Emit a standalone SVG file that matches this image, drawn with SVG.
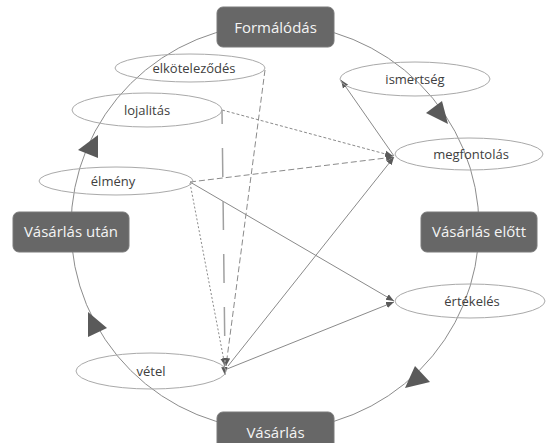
<svg xmlns="http://www.w3.org/2000/svg" width="546" height="443" viewBox="0 0 546 443">
  <style>
    .cycle { fill: none; stroke: #8c8c8c; stroke-width: 1; }
    .big-arrow { fill: #5a5a5a; }
    .phase rect { fill: #676767; stroke: #7a7a7a; stroke-width: 1; }
    .phase text { font-family: "Open Sans", "Noto Sans", sans-serif; font-size: 15px; fill: #f4f4f4; text-anchor: middle; }
    .step ellipse { fill: none; stroke: #a9a9a9; stroke-width: 1; }
    .step text { font-family: "Open Sans", "Noto Sans", sans-serif; font-size: 13px; fill: #404040; text-anchor: middle; }
    .link { fill: none; stroke: #8a8a8a; stroke-width: 1; }
    .dot { stroke-dasharray: 2 2; }
    .fine { stroke-dasharray: 3 2; }
    .dash { stroke-dasharray: 6 3; }
    .long { stroke: #a0a0a0; stroke-width: 1.5; stroke-dasharray: 29 24; stroke-dashoffset: 15; }
  </style>
  <defs>
    <marker id="ah" viewBox="0 0 10 10" refX="10" refY="5" markerWidth="8" markerHeight="8" markerUnits="userSpaceOnUse" orient="auto">
      <path d="M0,1 L10,5 L0,9 Z" fill="#5a5a5a"/>
    </marker>
  </defs>

  <rect width="546" height="443" fill="#ffffff"/>

  <!-- the purchase cycle ring with its direction arrows -->
  <g id="cycle">
    <ellipse class="cycle" cx="275" cy="227" rx="204" ry="203"/>
    <polygon class="big-arrow" points="426,113 442,101 448,124"/>
    <polygon class="big-arrow" points="405,388 415,366 430,382"/>
    <polygon class="big-arrow" points="88,312 88,337 107,328"/>
    <polygon class="big-arrow" points="98,135 78,150 98,158"/>
  </g>

  <!-- relations between the steps -->
  <g id="connectors">
    <line class="link fine" x1="222" y1="110" x2="393" y2="156" marker-end="url(#ah)"/>
    <line class="link dash" x1="190" y1="182" x2="394" y2="157" marker-end="url(#ah)"/>
    <line class="link" x1="228" y1="366" x2="394" y2="157" marker-end="url(#ah)"/>
    <line class="link" x1="394" y1="156" x2="341" y2="80" marker-end="url(#ah)"/>
    <line class="link" x1="190" y1="182" x2="394" y2="301" marker-end="url(#ah)"/>
    <line class="link" x1="227" y1="369" x2="394" y2="302" marker-end="url(#ah)"/>
    <line class="link dot" x1="190" y1="183" x2="225" y2="366" marker-end="url(#ah)"/>
    <line class="link dash" x1="265" y1="70" x2="226" y2="366" marker-end="url(#ah)"/>
    <line class="link long" x1="222" y1="110" x2="225" y2="362"/>
    <line class="link" x1="224" y1="362" x2="225" y2="375" marker-end="url(#ah)"/>
  </g>

  <!-- phases -->
  <g id="phase-formalodas" class="phase">
    <rect x="217" y="7" width="117" height="40" rx="6"/>
    <text x="275.5" y="32.5">Formálódás</text>
  </g>
  <g id="phase-vasarlas-elott" class="phase">
    <rect x="421" y="212" width="116" height="40" rx="6"/>
    <text x="479" y="237">Vásárlás előtt</text>
  </g>
  <g id="phase-vasarlas" class="phase">
    <rect x="217" y="412" width="117" height="40" rx="6"/>
    <text x="275.5" y="438">Vásárlás</text>
  </g>
  <g id="phase-vasarlas-utan" class="phase">
    <rect x="13" y="212" width="116" height="40" rx="6"/>
    <text x="71" y="237">Vásárlás után</text>
  </g>

  <!-- steps -->
  <g id="step-elkotelezodes" class="step">
    <ellipse cx="190" cy="68" rx="75" ry="14"/>
    <text x="194" y="73">elköteleződés</text>
  </g>
  <g id="step-lojalitas" class="step">
    <ellipse cx="147" cy="110" rx="75" ry="17"/>
    <text x="147" y="115">lojalitás</text>
  </g>
  <g id="step-elmeny" class="step">
    <ellipse cx="116" cy="181" rx="77" ry="14"/>
    <text x="113" y="186">élmény</text>
  </g>
  <g id="step-vetel" class="step">
    <ellipse cx="151" cy="371" rx="75" ry="18"/>
    <text x="151" y="376">vétel</text>
  </g>
  <g id="step-ismertseg" class="step">
    <ellipse cx="415" cy="79" rx="75" ry="17"/>
    <text x="415" y="84">ismertség</text>
  </g>
  <g id="step-megfontolas" class="step">
    <ellipse cx="469" cy="154" rx="74" ry="16"/>
    <text x="471" y="159">megfontolás</text>
  </g>
  <g id="step-ertekeles" class="step">
    <ellipse cx="470" cy="301" rx="75" ry="17"/>
    <text x="472" y="306">értékelés</text>
  </g>
</svg>
